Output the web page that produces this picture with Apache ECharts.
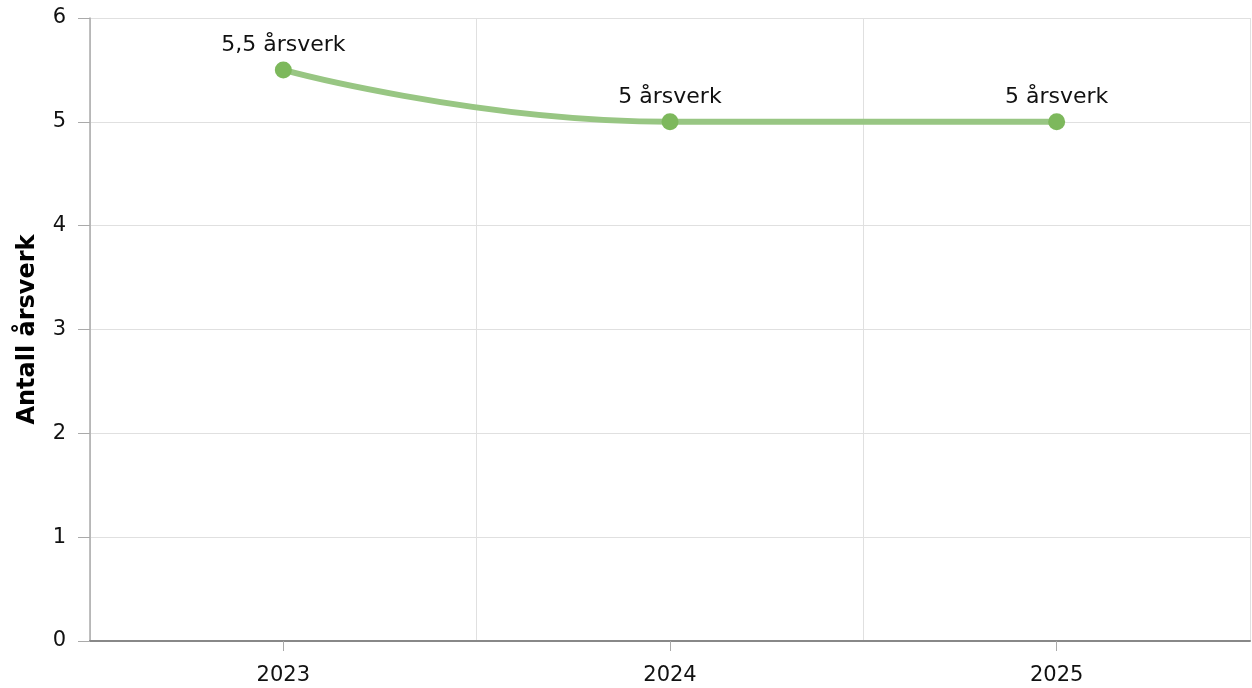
<!DOCTYPE html>
<html><head><meta charset="utf-8">
<script src="https://cdn.jsdelivr.net/npm/echarts@6/dist/echarts.min.js"></script>
<style>html,body{margin:0;padding:0;background:#fff}#c{width:1252px;height:688px}</style>
</head><body><div id="c"></div>
<script>
const categories = ['2023', '2024', '2025'];
const values = [5.5, 5, 5];
const labelTexts = ['5,5 årsverk', '5 årsverk', '5 årsverk'];
const yTicks = [0, 1, 2, 3, 4, 5, 6];

const chart = echarts.init(document.getElementById('c'));
const font = '"DejaVu Sans", Verdana, sans-serif';
chart.setOption({
  animation: false,
  grid: {left: 90, right: 2, top: 18, bottom: 47},
  xAxis: [{
    type: 'category', data: categories, boundaryGap: true,
    axisLine: {lineStyle: {color: '#888', width: 2}},
    axisTick: {show: true, alignWithLabel: true, length: 10, lineStyle: {color: '#aaa', width: 1}},
    axisLabel: {color: '#111', fontSize: 21, fontFamily: font, margin: 24},
    splitLine: {show: false}
  }, {
    type: 'category', data: categories, boundaryGap: true, position: 'bottom',
    axisLine: {show: false}, axisTick: {show: false}, axisLabel: {show: false},
    splitLine: {show: true, lineStyle: {color: '#e0e0e0', width: 1}}
  }],
  yAxis: {
    type: 'value', min: yTicks[0], max: yTicks[yTicks.length - 1], interval: 1,
    name: 'Antall årsverk', nameLocation: 'middle', nameGap: 50,
    nameTextStyle: {fontSize: 24, fontWeight: 'bold', fontFamily: font, color: '#000'},
    axisLine: {show: true, lineStyle: {color: '#aaa', width: 1.5}},
    axisTick: {show: true, length: 12, lineStyle: {color: '#aaa'}},
    axisLabel: {color: '#111', fontSize: 21, fontFamily: font, margin: 24},
    splitLine: {show: true, lineStyle: {color: '#e0e0e0', width: 1}}
  },
  series: [{
    type: 'line', data: values, smooth: true, xAxisIndex: 0,
    symbol: 'circle', symbolSize: 17,
    lineStyle: {color: '#98c683', width: 6},
    itemStyle: {color: '#7db85c'},
    label: {
      show: true, position: 'top', distance: 5,
      fontSize: 22, fontFamily: font, color: '#111',
      formatter: p => labelTexts[p.dataIndex]
    }
  }]
});
</script></body></html>
